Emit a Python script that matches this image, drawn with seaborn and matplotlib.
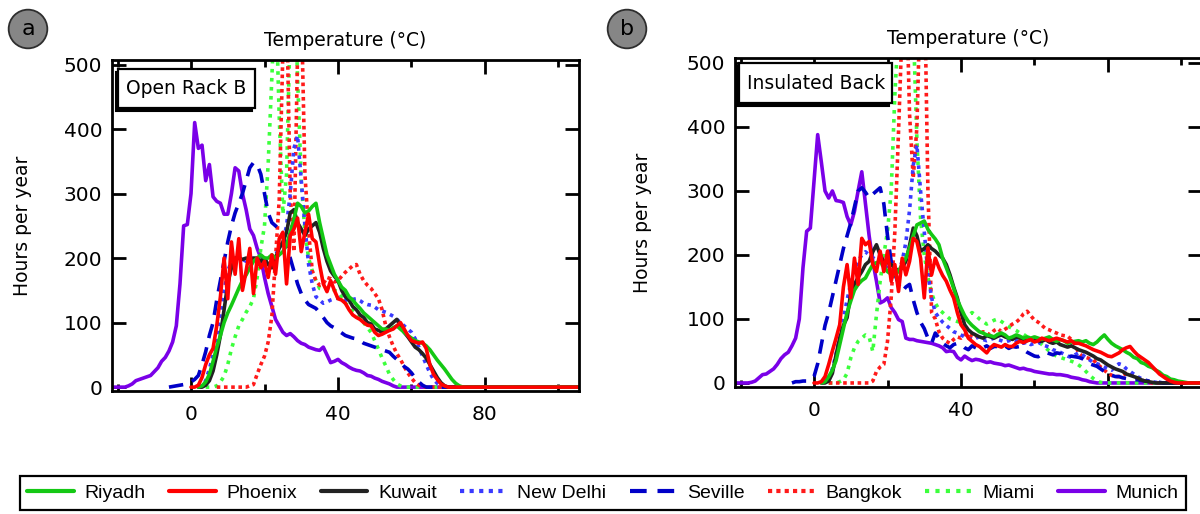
import numpy as np
import pandas as pd
import matplotlib
matplotlib.use("Agg")
import matplotlib.pyplot as plt
import seaborn as sns
from matplotlib.lines import Line2D
from matplotlib.patches import Rectangle

# ---------------- data (hours per year per 1 degC bin) ----------------
CITIES = ["Riyadh", "Phoenix", "Kuwait", "New Delhi", "Seville", "Bangkok", "Miami", "Munich"]
DRAW_ORDER = ["Munich", "Miami", "Bangkok", "New Delhi", "Seville", "Kuwait", "Riyadh", "Phoenix"]
T_END = 106  # last temperature bin shown (all series are zero out to here)

x_ticks = [0, 40, 80]
y_ticks = [0, 100, 200, 300, 400, 500]

# ----- panel a : Open Rack B -----
munich_a_t0 = -21
munich_a = [0, 0, 0, 0, 2, 5, 10, 12, 14, 16, 18, 24, 30, 40, 46, 56, 70, 95, 160, 250,
            252, 300, 410, 370, 375, 320, 345, 295, 288, 285, 268, 268, 300, 340, 335, 300,
            275, 245, 235, 215, 200, 170, 145, 125, 105, 95, 85, 80, 83, 78, 72, 68, 66, 62,
            60, 58, 57, 62, 50, 38, 40, 43, 38, 35, 31, 28, 26, 25, 22, 18, 17, 14, 12, 9, 7, 5, 2]
seville_a_t0 = -6
seville_a = [0, 1, 2, 3, 4, 5, 8, 12, 18, 35, 55, 80, 100, 135, 165, 195, 225, 250, 270, 285,
             300, 320, 340, 348, 345, 330, 300, 270, 255, 250, 245, 235, 215, 200, 180, 160, 145,
             135, 128, 125, 122, 115, 108, 100, 95, 92, 88, 84, 80, 78, 76, 75, 72, 68, 66, 64,
             62, 60, 58, 56, 54, 48, 43, 38, 32, 28, 22, 14, 8, 3]
riyadh_a_t0 = 2
riyadh_a = [0, 2, 8, 20, 40, 62, 80, 100, 115, 127, 140, 153, 165, 174, 185, 195, 200, 205, 200,
            200, 205, 200, 205, 210, 220, 240, 260, 285, 280, 270, 273, 280, 285, 255, 230, 205,
            190, 175, 165, 155, 150, 140, 135, 128, 122, 115, 110, 105, 100, 95, 90, 90, 88, 92,
            95, 90, 85, 80, 76, 72, 70, 68, 64, 58, 50, 42, 35, 28, 20, 12, 6, 2]
kuwait_a_t0 = 2
kuwait_a = [0, 0, 3, 10, 25, 50, 80, 120, 160, 185, 200, 200, 198, 200, 195, 200, 200, 195, 200,
            190, 185, 200, 215, 225, 240, 270, 275, 255, 245, 235, 245, 250, 255, 240, 215, 195,
            180, 172, 165, 150, 140, 135, 125, 120, 112, 108, 100, 98, 90, 88, 85, 90, 95, 100,
            105, 95, 85, 78, 70, 62, 58, 52, 45, 35, 25, 15, 7, 2]
phoenix_a_t0 = 0
phoenix_a = [0, 0, 3, 15, 35, 50, 60, 95, 140, 200, 137, 225, 175, 230, 150, 180, 215, 145, 200,
             185, 195, 170, 205, 175, 230, 240, 160, 235, 245, 262, 210, 240, 268, 230, 225, 190,
             160, 148, 165, 150, 137, 135, 130, 120, 112, 108, 105, 100, 96, 95, 85, 80, 82, 85,
             88, 90, 95, 100, 90, 80, 72, 70, 68, 70, 60, 35, 20, 12, 5, 2]
newdelhi_a_t0 = 2
newdelhi_a = [0, 2, 10, 28, 50, 80, 115, 150, 180, 195, 205, 200, 198, 195, 200, 200, 195, 190,
              195, 200, 200, 205, 215, 225, 250, 300, 370, 390, 320, 250, 190, 160, 140, 135, 130,
              132, 135, 137, 138, 137, 135, 135, 136, 137, 134, 130, 128, 127, 124, 120, 118, 116,
              113, 110, 105, 100, 95, 90, 85, 75, 62, 48, 35, 22, 12, 6, 2]
miami_a_t0 = 4
miami_a = [0, 0, 0, 2, 8, 17, 35, 59, 78, 95, 105, 116, 125, 137, 170, 215, 250, 346, 480, 620,
           420, 268, 330, 560, 650, 480, 320, 240, 200, 180, 165, 153, 152, 153, 155, 150, 148,
           140, 130, 125, 118, 112, 108, 100, 92, 85, 72, 59, 45, 33, 20, 12, 5, 2]
bangkok_a_t0 = 7
bangkok_a = [0, 0, 0, 0, 0, 0, 0, 0, 0, 2, 4, 20, 35, 48, 70, 110, 200, 290, 520, 600, 300, 210,
             520, 600, 330, 241, 180, 165, 158, 160, 170, 168, 163, 165, 172, 178, 183, 188, 190,
             175, 165, 158, 153, 145, 137, 120, 95, 78, 64, 52, 43, 32, 22, 14, 7, 3]

# ----- panel b : Insulated Back -----
munich_b_t0 = -21
munich_b = [0, 0, 0, 0, 1, 3, 8, 13, 14, 18, 22, 29, 38, 44, 48, 58, 70, 100, 180, 237, 242, 315,
            388, 345, 300, 289, 300, 285, 284, 282, 260, 247, 268, 300, 330, 280, 230, 190, 159,
            125, 128, 133, 118, 110, 99, 96, 70, 68, 68, 66, 65, 64, 63, 62, 60, 58, 55, 49, 50,
            49, 40, 36, 42, 38, 35, 37, 36, 34, 32, 33, 31, 30, 29, 27, 28, 26, 24, 22, 23, 21,
            20, 18, 17, 16, 15, 14, 14, 13, 13, 12, 11, 9, 8, 7, 5, 4, 2, 1]
seville_b_t0 = -6
seville_b = [0, 2, 2, 3, 3, 4, 10, 30, 60, 90, 110, 135, 160, 185, 210, 230, 250, 275, 300, 305,
             298, 289, 295, 300, 305, 280, 230, 190, 170, 155, 143, 150, 154, 130, 110, 95, 85, 70,
             62, 78, 70, 62, 58, 55, 60, 62, 60, 55, 52, 58, 55, 52, 55, 58, 54, 57, 57, 55, 58,
             54, 57, 56, 57, 52, 48, 45, 42, 41, 45, 48, 46, 44, 47, 46, 42, 40, 42, 41, 40, 38,
             34, 30, 28, 26, 22, 18, 14, 12, 10, 10, 8, 7, 6, 5, 5, 4, 3, 3, 2, 1, 1]
riyadh_b_t0 = 2
riyadh_b = [0, 2, 10, 20, 35, 60, 85, 110, 128, 145, 154, 160, 164, 175, 185, 188, 190, 182, 174,
            170, 169, 175, 185, 195, 211, 230, 247, 250, 253, 240, 232, 225, 216, 195, 180, 165,
            148, 130, 117, 105, 96, 90, 85, 80, 78, 75, 74, 72, 76, 78, 75, 70, 72, 75, 73, 70,
            72, 70, 72, 70, 68, 70, 72, 68, 65, 68, 66, 62, 64, 65, 66, 64, 66, 62, 60, 64, 70,
            75, 68, 62, 58, 55, 52, 48, 45, 40, 38, 32, 30, 26, 24, 20, 17, 12, 10, 6, 5, 3, 2, 1]
kuwait_b_t0 = 2
kuwait_b = [0, 0, 3, 15, 44, 70, 90, 102, 140, 154, 165, 174, 185, 190, 205, 216, 200, 190, 188,
            185, 180, 174, 180, 190, 215, 242, 230, 206, 210, 216, 210, 206, 200, 195, 185, 169,
            150, 133, 110, 91, 83, 78, 75, 72, 70, 74, 72, 70, 73, 75, 72, 70, 68, 72, 70, 68, 66,
            68, 70, 66, 65, 68, 64, 62, 64, 60, 58, 56, 58, 55, 52, 50, 48, 45, 42, 38, 36, 32,
            28, 25, 22, 20, 18, 14, 12, 10, 8, 5, 3, 2, 1]
phoenix_b_t0 = 0
phoenix_b = [0, 0, 2, 10, 29, 50, 70, 91, 150, 185, 133, 195, 154, 226, 216, 221, 185, 174, 206,
             174, 206, 159, 185, 143, 195, 169, 190, 226, 221, 195, 133, 211, 169, 195, 180, 168,
             159, 145, 133, 110, 91, 83, 70, 65, 60, 57, 52, 47, 55, 60, 58, 56, 60, 57, 57, 62,
             65, 63, 66, 68, 64, 66, 70, 68, 66, 68, 70, 68, 66, 64, 66, 62, 62, 60, 58, 55, 52,
             50, 48, 45, 42, 41, 44, 47, 52, 55, 57, 50, 44, 40, 36, 32, 26, 20, 14, 10, 6, 3, 1]
newdelhi_b_t0 = 2
newdelhi_b = [0, 2, 8, 22, 45, 70, 100, 130, 155, 175, 190, 200, 205, 200, 196, 192, 190, 185,
              180, 175, 170, 175, 190, 220, 270, 340, 372, 300, 237, 170, 133, 110, 102, 95, 90,
              85, 80, 78, 75, 72, 70, 68, 70, 72, 68, 66, 68, 70, 68, 66, 64, 66, 68, 66, 64, 62,
              64, 60, 62, 64, 60, 58, 56, 52, 50, 48, 45, 42, 40, 44, 47, 44, 40, 36, 32, 30, 28,
              25, 22, 20, 26, 30, 28, 22, 18, 14, 10, 7, 5, 3, 2, 1]
miami_b_t0 = 4
miami_b = [0, 0, 0, 2, 5, 15, 39, 55, 65, 70, 75, 72, 49, 107, 159, 200, 237, 300, 450, 560, 620,
           600, 650, 560, 380, 257, 200, 165, 140, 125, 115, 110, 105, 100, 98, 96, 95, 100, 105,
           110, 106, 100, 96, 92, 95, 98, 100, 96, 92, 88, 85, 82, 78, 76, 72, 70, 68, 66, 60, 55,
           50, 45, 42, 40, 38, 36, 34, 32, 28, 24, 18, 12, 7, 3, 1]
bangkok_b_t0 = 4
bangkok_b = [0, 0, 0, 0, 0, 0, 0, 0, 0, 0, 0, 0, 3, 18, 25, 29, 65, 133, 237, 393, 560, 650, 420,
             320, 400, 620, 650, 300, 110, 100, 80, 70, 65, 62, 68, 72, 70, 75, 78, 72, 70, 75, 80,
             78, 75, 82, 85, 80, 84, 88, 92, 95, 100, 108, 112, 105, 98, 95, 90, 85, 83, 80, 78,
             75, 74, 73, 68, 60, 47, 42, 40, 38, 36, 30, 25, 20, 15, 12, 10, 10, 12, 15, 15, 10, 7,
             5, 3, 1]

panel_a = {
    "Riyadh": (riyadh_a_t0, riyadh_a), "Phoenix": (phoenix_a_t0, phoenix_a),
    "Kuwait": (kuwait_a_t0, kuwait_a), "New Delhi": (newdelhi_a_t0, newdelhi_a),
    "Seville": (seville_a_t0, seville_a), "Bangkok": (bangkok_a_t0, bangkok_a),
    "Miami": (miami_a_t0, miami_a), "Munich": (munich_a_t0, munich_a),
}
panel_b = {
    "Riyadh": (riyadh_b_t0, riyadh_b), "Phoenix": (phoenix_b_t0, phoenix_b),
    "Kuwait": (kuwait_b_t0, kuwait_b), "New Delhi": (newdelhi_b_t0, newdelhi_b),
    "Seville": (seville_b_t0, seville_b), "Bangkok": (bangkok_b_t0, bangkok_b),
    "Miami": (miami_b_t0, miami_b), "Munich": (munich_b_t0, munich_b),
}

COLORS = {"Riyadh": "#14c814", "Phoenix": "#ff0000", "Kuwait": "#222222",
          "New Delhi": "#3a3aff", "Seville": "#0000c8", "Bangkok": "#ff1a1a",
          "Miami": "#3cff3c", "Munich": "#7a00e8"}
DASHES = {"Riyadh": "", "Phoenix": "", "Kuwait": "", "New Delhi": (1, 1.3),
          "Seville": (4, 2.6), "Bangkok": (1, 1), "Miami": (1, 1.5), "Munich": ""}


def build(panel):
    frames = []
    for city, (t0, vals) in panel.items():
        temps = np.arange(t0, T_END + 1)
        hours = np.zeros(temps.size)
        hours[:len(vals)] = vals
        frames.append(pd.DataFrame({"temp": temps, "hours": hours, "city": city}))
    return pd.concat(frames, ignore_index=True)


df_a = build(panel_a)
df_b = build(panel_b)

# ---------------- figure ----------------
sns.set_theme(style="ticks")
plt.rcParams["font.family"] = ["DejaVu Sans"]
plt.rcParams.update({"text.color": "black", "axes.labelcolor": "black",
                     "xtick.color": "black", "ytick.color": "black",
                     "axes.edgecolor": "black"})

W, H = 1200, 514
fig = plt.figure(figsize=(W / 100, H / 100), dpi=100)
fig.patch.set_facecolor("white")


def px_axes(left, top, right, bottom):
    return fig.add_axes([left / W, 1 - bottom / H, (right - left) / W, (bottom - top) / H])


ax_a = px_axes(112, 60, 578.7, 391)
ax_b = px_axes(735, 58.5, 1201.7, 386.8)

for ax, df, title_txt, box, ylab_x in [
    (ax_a, df_a, "Open Rack B", (0.0129, 0.855, 0.306, 0.9728), -0.171),
    (ax_b, df_b, "Insulated Back", (0.0086, 0.864, 0.336, 0.986), -0.178),
]:
    sns.lineplot(data=df, x="temp", y="hours", hue="city", style="city",
                 hue_order=DRAW_ORDER, style_order=DRAW_ORDER, palette=COLORS,
                 dashes=DASHES, linewidth=2.6, estimator=None, legend=False, ax=ax)
    ax.set_xlim(-21.5, 105.5)
    ax.set_ylim(-6, 507)
    ax.set_xticks(x_ticks)
    ax.set_xticks([-20, 20, 60, 100], minor=True)
    ax.set_yticks(y_ticks)
    ax.tick_params(which="both", direction="in", top=True, right=True,
                   labeltop=False, labelright=False, width=2, color="black",
                   labelcolor="black")
    ax.tick_params(which="major", length=10, labelsize=14.5)
    ax.tick_params(which="minor", length=5)
    ax.tick_params(axis="x", pad=10)
    ax.tick_params(axis="y", pad=7)
    for s in ax.spines.values():
        s.set_linewidth(2)
        s.set_color("black")
    ax.set_xlabel("")
    ax.set_ylabel("Hours per year", fontsize=13.5, color="black")
    ax.yaxis.set_label_coords(ylab_x, 0.5)
    ax.text(0.5, 1.06, "Temperature (°C)", transform=ax.transAxes, ha="center",
            va="center", fontsize=13.5, color="black")
    # inset label box with drop shadow
    x0, y0, x1, y1 = box
    dx, dy = -2.5 / 467, -3.0 / 330
    ax.add_patch(Rectangle((x0 + dx, y0 + dy), x1 - x0, y1 - y0, transform=ax.transAxes,
                           fc="black", ec="black", lw=1.5, zorder=20))
    ax.add_patch(Rectangle((x0, y0), x1 - x0, y1 - y0, transform=ax.transAxes,
                           fc="white", ec="black", lw=1.6, zorder=21))
    ax.text(x0 + 8 / 467, (y0 + y1) / 2, title_txt, transform=ax.transAxes, ha="left",
            va="center", fontsize=13.5, zorder=22, color="black")

# panel letters
for xc, letter in [(28, "a"), (627, "b")]:
    fig.text(xc / W, 1 - 29 / H, letter, ha="center", va="center", fontsize=16,
             color="black",
             bbox=dict(boxstyle="circle,pad=0.42", fc="#868686", ec="#2e2e2e", lw=1.3))

# legend
handles = []
for c in CITIES:
    d = DASHES[c]
    ls = "-" if d == "" else (0, d)
    handles.append(Line2D([], [], color=COLORS[c], lw=3.0, linestyle=ls))
leg = fig.legend(handles, CITIES, loc="center", bbox_to_anchor=(603 / W, 1 - 493 / H),
                 ncol=8, frameon=True, fancybox=False, framealpha=1, edgecolor="black",
                 prop={"family": "Liberation Sans", "size": 14}, handlelength=2.4,
                 handletextpad=0.55, columnspacing=1.2, borderpad=0.4, borderaxespad=0)
leg.get_frame().set_linewidth(1.6)
for t in leg.get_texts():
    t.set_color("black")

fig.savefig("out.png", dpi=100, facecolor="white")
